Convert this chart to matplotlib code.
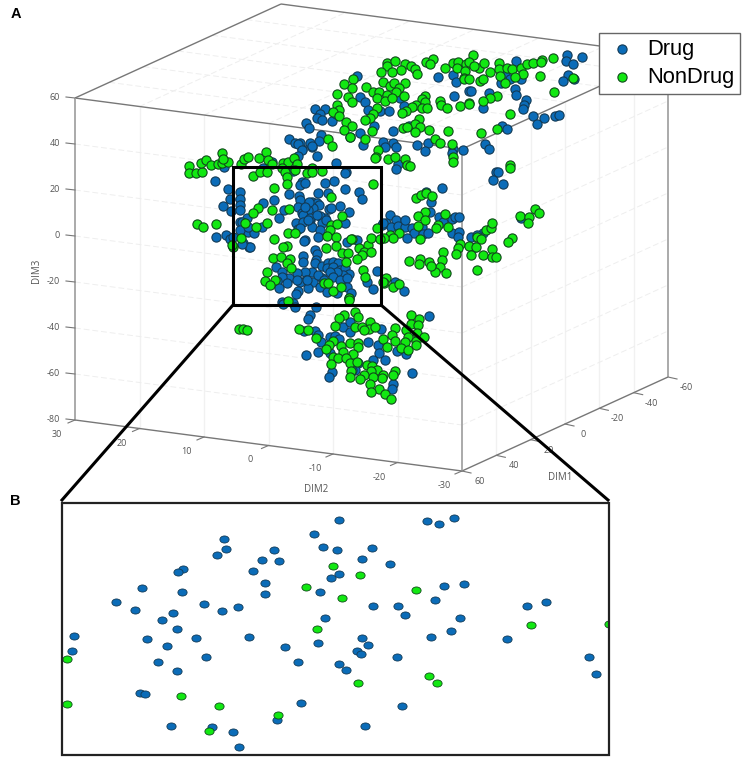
import matplotlib
matplotlib.use('Agg')
import matplotlib.pyplot as plt
from matplotlib.path import Path
from matplotlib.patches import Rectangle
from matplotlib.transforms import Affine2D

# axis ticks of the 3D box
dim1_ticks = [60, 40, 20, 0, -20, -40, -60]
dim2_ticks = [30, 20, 10, 0, -10, -20, -30]
dim3_ticks = [60, 40, 20, 0, -20, -40, -60, -80]

# panel A points, as they appear on the page after the 3D projection
a_drug = [(357,76),(438,77),(453,75),(456,82),(454,96),(469,91),(315,109),(325,109),(320,114),(317,118),(322,120),(332,121),
    (336,114),(360,97),(365,102),(368,110),(380,111),(389,111),(400,98),(404,106),(306,123),(309,128),(374,126),(360,133),
    (350,137),(393,131),(409,126),(321,135),(319,141),(310,143),(312,147),(302,149),(300,143),(317,156),(336,163),(363,145),
    (383,142),(393,143),(385,147),(396,147),(417,145),(428,143),(425,151),(453,149),(463,150),(398,164),(396,169),
    (567,55),(582,57),(566,61),(573,64),(516,61),(505,73),(501,83),(510,79),(521,79),(568,75),(563,81),(574,79),(471,91),
    (489,93),(515,89),(516,95),(526,100),(524,105),(523,109),(483,108),(533,116),(544,118),(555,116),(559,115),(537,124),
    (502,126),(507,129),(485,144),(489,149),(496,172),(498,172),(493,180),(503,184),(442,188),(431,202),(430,212),(452,153),
    (426,192),(390,215),(396,220),(386,223),(391,227),(398,226),(405,227),(412,228),(422,227),(414,233),(423,234),(428,233),
    (407,238),(439,217),(443,222),(452,219),(455,217),(459,217),(452,233),(459,232),(458,237),(471,237),(483,233),(477,235),
    (475,247),(521,218),(395,282),(404,291),(382,225),(405,220),
    (224,167),(215,181),(228,189),(230,199),(223,206),(231,211),(240,192),(240,199),(240,205),(240,210),(263,203),(263,168),
    (272,162),(293,171),(274,200),(284,210),(279,218),(289,194),(240,222),(247,218),(244,228),(248,232),(254,233),(262,227),
    (216,237),(226,235),(230,239),(243,243),(249,247),(305,240),(346,172),(345,173),(325,183),(334,181),(302,182),(300,185),
    (305,183),(345,189),(359,192),(362,199),(318,193),(328,193),(299,196),(300,200),(298,207),(312,202),(317,203),(319,205),
    (313,208),(302,213),(308,210),(329,209),(325,218),(340,206),(349,212),(303,215),(320,216),(296,223),(303,222),(310,220),
    (312,227),(322,223),(326,220),(345,223),(298,229),(320,230),(318,237),(304,241),(357,240),(347,242),(315,250),
    (289,139),(295,143),(298,144),(312,146),(302,150),(298,156),(331,208),(310,218),(317,215),(309,202),(305,207),(308,220),
    (242,222),(240,230),(248,227),(233,237),(250,247),(242,244),(300,228),
    (317,254),(316,260),(303,256),(303,262),(315,263),(322,266),(328,263),(333,262),(338,263),(327,268),(333,267),(340,270),
    (345,268),(349,274),(343,275),(337,272),(330,272),(322,278),(312,272),(305,272),(306,280),(313,282),(318,275),(324,280),
    (333,277),(340,280),(347,278),(300,282),(308,288),(320,287),(327,292),(337,293),(347,287),(351,293),(349,298),(367,282),
    (373,289),(377,271),(383,223),(276,267),(282,272),(297,273),(289,278),(282,277),(277,281),(287,283),(297,280),(279,288),
    (298,291),(296,294),(307,280),(282,302),(293,303),
    (283,304),(295,307),(316,307),(310,315),(308,319),(343,327),(350,322),(304,331),(315,331),(318,335),(321,342),(330,337),
    (335,336),(339,339),(350,332),(381,329),(368,342),(378,345),(379,353),(306,355),(318,352),(330,353),(385,360),(373,360),
    (358,363),(355,370),(332,372),(329,377),(412,373),(429,316),(397,351),(406,354),(393,384),(392,389),(352,370)]

a_nondrug = [(387,63),(395,61),(387,66),(405,64),(411,66),(401,70),(392,72),(381,72),(415,69),(417,74),(426,62),(433,59),
    (430,64),(445,68),(453,63),(458,62),(457,68),(466,64),(465,71),(464,78),(344,84),(353,79),(366,87),(352,88),(337,94),
    (348,97),(352,102),(383,82),(390,86),(394,83),(405,83),(399,88),(373,92),(379,92),(396,92),(387,95),(377,98),(385,101),
    (392,98),(404,96),(425,96),(422,99),(425,102),(440,101),(441,105),(447,108),(460,106),(469,103),(416,105),(412,107),
    (422,108),(427,108),(406,111),(402,113),(377,108),(373,114),(370,118),(365,120),(337,105),(339,110),(333,112),(339,116),
    (346,122),(352,126),(344,130),(350,137),(372,131),(365,139),(328,139),(332,146),(419,119),(415,124),(420,127),(415,132),
    (403,128),(407,127),(429,130),(448,131),(435,139),(440,143),(452,144),(453,157),(453,162),(378,150),(376,157),(388,159),
    (395,157),(405,159),(407,165),(410,166),(375,158),
    (473,55),(469,62),(479,68),(474,66),(484,63),(490,72),(499,63),(499,69),(507,68),(512,69),(521,68),(527,64),(533,63),
    (542,60),(541,62),(553,58),(523,74),(515,77),(500,76),(540,76),(573,78),(505,83),(554,92),(464,79),(469,79),(480,81),
    (483,79),(497,96),(490,98),(483,101),(469,104),(510,114),(497,129),(481,133),(510,165),(510,168),
    (416,198),(421,195),(426,193),(432,196),(425,212),(418,216),(425,220),(445,214),(438,225),(436,228),(448,227),(418,226),
    (399,233),(390,235),(393,238),(384,238),(420,239),(460,244),(458,248),(456,254),(469,246),(471,255),(477,237),(481,239),
    (476,247),(486,230),(491,228),(492,223),(483,255),(492,249),(492,257),(496,257),(512,238),(508,242),(477,270),(520,216),
    (529,217),(528,223),(535,209),(539,213),(443,252),(442,260),(440,267),(435,272),(446,273),(429,262),(431,266),(420,259),
    (419,264),(409,261),(386,278),(384,283),(393,287),(399,284),
    (189,166),(189,173),(196,173),(202,172),(201,163),(206,160),(211,165),(218,164),(222,163),(228,162),(222,153),(223,159),
    (241,164),(244,159),(248,157),(259,158),(266,152),(268,160),(272,164),(283,163),(288,162),(294,158),(297,164),(282,168),
    (285,172),(295,170),(287,177),(287,184),(253,176),(260,172),(267,172),(307,173),(312,168),(312,172),(322,171),(274,188),
    (331,197),(272,210),(289,209),(258,208),(253,213),(245,223),(256,227),(267,223),(197,224),(203,227),(216,224),(241,238),
    (274,239),(288,233),(295,233),(287,246),(283,247),(342,216),(331,225),(337,224),(330,230),(327,236),(336,237),(352,239),
    (233,247),(232,245),(239,329),(243,329),(247,330),
    (373,184),(326,248),(336,246),(351,239),(359,248),(368,245),(371,238),(364,252),(371,252),(377,228),(380,239),(342,253),
    (348,253),(346,262),(362,255),(357,259),(363,270),(365,277),(324,283),(328,283),(333,291),(341,287),(349,298),(383,282),
    (273,258),(281,257),(290,259),(287,263),(291,268),(267,272),(265,281),(275,280),(270,285),(288,301),
    (355,312),(344,315),(339,318),(358,317),(335,326),(355,327),(362,327),(370,322),(369,329),(375,327),(364,330),(395,328),
    (411,315),(419,319),(411,324),(418,325),(406,330),(408,337),(417,333),(424,337),(392,335),(383,339),(405,342),(416,341),
    (416,345),(395,341),(387,347),(401,348),(408,350),(299,329),(308,330),(316,338),(333,341),(329,345),(326,349),(341,346),
    (350,343),(358,343),(358,347),(343,352),(353,354),(333,357),(338,358),(346,358),(331,364),(350,363),(357,362),(351,371),
    (350,377),(367,365),(372,366),(377,370),(371,371),(364,375),(360,379),(383,375),(382,378),(373,377),(395,371),(393,375),
    (370,384),(379,389),(371,392),(385,394),(391,399),(349,300)]

# panel B points, the close-up of the black frame
b_drug = [(224.3,538.7),(225.7,549.3),(217,555.3),(183.3,568.7),(178.3,572),(142,588),(181.7,592),(116,601.7),(135,609.7),
    (204.3,604),(222,611),(238.3,607),(172.7,612.7),(162,620.3),(176.7,629),(74,635.7),(71.7,650.7),(147.3,639),(167,645.7),
    (196,637.7),(249,637.3),(158.3,661.7),(205.7,657),(176.7,670.7),(285,646.7),(298.3,661.7),(140,692.7),(144.7,694),
    (171.3,725.7),(211.7,727),(233.3,731.7),(238.7,747.3),(277.3,719.7),(301,703.3),(314,534),(323.3,547),(337,550.3),
    (339.3,520),(331,578),(339.3,573.7),(274.3,550.3),(262,559.7),(279.3,560.7),(253.3,570.7),(265.3,582.7),(265.3,594),
    (319.7,591.7),(325,617.7),(318,643.3),(338.7,664),(426.7,521),(438.7,524),(454.3,518.3),(372.3,547.7),(361.7,559.3),
    (390.3,564),(444,586),(464,584.3),(434.7,600.3),(372.7,605.7),(398.3,606.3),(405,615),(460.3,618),(451.3,631),
    (431,636.7),(362,638),(368,645),(357.3,651),(360.7,653.7),(396.7,657.3),(345.7,670.3),(402,705.7),(364.7,726),
    (526.7,606.3),(546,601.7),(506.7,639.3),(589.3,657),(595.7,673.7)]
b_nondrug = [(67.3,659),(67,704.3),(180.7,695.7),(219.3,705.7),(209.3,730.7),(278.3,715),(332.7,566),(305.7,587),(317.3,629),
    (341.7,598.3),(360,574.7),(416,589.7),(357.7,683),(429.3,676.3),(437,682.7),(530.7,625),(609.3,624.3)]

BLUE = '#0b6cb8'
GREEN = '#12e812'
BLUE_EDGE = '#123a55'
GREEN_EDGE = '#0f4a1a'
GRID = '#eeeeee'
TICK = '#555555'


def project(d1, d2, d3):
    # page position of a point of the 3D box
    f1 = (60 - d1) / 120
    f2 = (30 - d2) / 60
    f3 = (60 - d3) / 140
    return 75 + 387 * f2 + 206 * f1, 98 + 51 * f2 - 94 * f1 + 322 * f3


def line3d(ax, a, b, **kw):
    p, q = project(*a), project(*b)
    ax.plot([p[0], q[0]], [p[1], q[1]], solid_capstyle='butt', **kw)


plt.rcParams['font.family'] = ['Open Sans', 'DejaVu Sans']

fig = plt.figure(figsize=(7.43, 7.59), dpi=100)
ax = fig.add_axes([0, 0, 1, 1])
ax.set_xlim(0, 743)
ax.set_ylim(759, 0)
ax.axis('off')

# grid on the walls and the ceiling
for d in dim2_ticks[1:-1]:
    line3d(ax, (60, d, 60), (60, d, -80), color='#f1f1f1', lw=1, zorder=1)
    line3d(ax, (60, d, 60), (-60, d, 60), color=GRID, lw=0.7, ls=(0, (6, 3)), zorder=1)
for d in dim1_ticks[1:-1]:
    line3d(ax, (d, -30, 60), (d, -30, -80), color='#f1f1f1', lw=1, zorder=1)
    line3d(ax, (d, 30, 60), (d, -30, 60), color=GRID, lw=0.7, ls=(0, (6, 3)), zorder=1)
for d in dim3_ticks[1:-1]:
    line3d(ax, (60, 30, d), (60, -30, d), color=GRID, lw=0.7, ls=(0, (6, 3)), zorder=1)
    line3d(ax, (60, -30, d), (-60, -30, d), color=GRID, lw=0.7, ls=(0, (6, 3)), zorder=1)

# box edges
for a, b in [((60, 30, 60), (-60, 30, 60)), ((-60, 30, 60), (-60, -30, 60)), ((60, 30, 60), (60, -30, 60)),
             ((60, -30, 60), (-60, -30, 60)), ((60, 30, -80), (60, -30, -80)), ((60, -30, -80), (-60, -30, -80))]:
    line3d(ax, a, b, color='#777777', lw=1, zorder=2)
for a, b in [((60, 30, 60), (60, 30, -80)), ((60, -30, 60), (60, -30, -80)), ((-60, -30, 60), (-60, -30, -80))]:
    line3d(ax, a, b, color='#aaaaaa', lw=1.4, zorder=2)

# ticks and their labels
for d in dim3_ticks:
    x, y = project(60, 30, d)
    ax.plot([x - 9, x], [y - 1, y], color='#777777', lw=0.8, zorder=2)
    ax.text(60, y - 1, str(d), ha='right', va='center', fontsize=6.5, color=TICK)
for d in dim2_ticks:
    x, y = project(60, d, -80)
    ax.plot([x - 7, x], [y + 3, y], color='#777777', lw=0.8, zorder=2)
    ax.text(x - 18, y + 14.5, str(d), ha='center', va='center', fontsize=6.5, color=TICK)
for d in dim1_ticks:
    x, y = project(d, -30, -80)
    ax.plot([x, x + 9], [y, y + 2], color='#777777', lw=0.8, zorder=2)
    ax.text(x + 18, y + 10.5, str(d), ha='center', va='center', fontsize=6.5, color=TICK)

ax.text(316, 490, 'DIM2', ha='center', va='center', fontsize=7, color=TICK)
ax.text(560, 478, 'DIM1', ha='center', va='center', fontsize=7, color=TICK)
ax.text(37, 271, 'DIM3', ha='center', va='center', rotation=90, fontsize=7, color=TICK)

# panel A
drug_x, drug_y = zip(*a_drug)
nondrug_x, nondrug_y = zip(*a_nondrug)
h1 = ax.scatter(drug_x, drug_y, s=44, c=BLUE, edgecolors=BLUE_EDGE, linewidths=0.8, zorder=3, label='Drug')
h2 = ax.scatter(nondrug_x, nondrug_y, s=44, c=GREEN, edgecolors=GREEN_EDGE, linewidths=0.8, zorder=4, label='NonDrug')

# frame and the zoom lines
ax.add_patch(Rectangle((233, 167), 148, 138, fill=False, ec='black', lw=2.2, zorder=5))
ax.plot([233, 62], [305, 500], color='black', lw=2.2, zorder=5)
ax.plot([381, 608], [305, 500], color='black', lw=2.2, zorder=5)

# panel B
box_b = Rectangle((62, 503), 547, 252, fill=False, ec='#222222', lw=1.6, zorder=5)
ax.add_patch(box_b)
oval = Path.unit_circle().transformed(Affine2D().scale(1.3, 1))
drug_bx, drug_by = zip(*b_drug)
nondrug_bx, nondrug_by = zip(*b_nondrug)
for bx, by, col, edge in [(drug_bx, drug_by, BLUE, BLUE_EDGE), (nondrug_bx, nondrug_by, GREEN, GREEN_EDGE)]:
    pts = ax.scatter(bx, by, s=44, marker=oval, c=col, edgecolors=edge, linewidths=0.6, zorder=3)
    pts.set_clip_path(box_b)

ax.text(16, 14, 'A', ha='center', va='center', fontsize=10.5, fontweight='bold', family='Liberation Sans')
ax.text(15, 501, 'B', ha='center', va='center', fontsize=10.5, fontweight='bold', family='Liberation Sans')

leg = ax.legend(handles=[h1, h2], loc='upper left', bbox_to_anchor=(599, 33), bbox_transform=ax.transData,
                borderaxespad=0, fancybox=False, framealpha=1, edgecolor='#666666', borderpad=0.28,
                labelspacing=0.32, handletextpad=0.35, handlelength=1.55,
                prop={'family': 'Liberation Sans', 'size': 15.8})
leg.set_zorder(10)

fig.savefig('out.png', dpi=100)
